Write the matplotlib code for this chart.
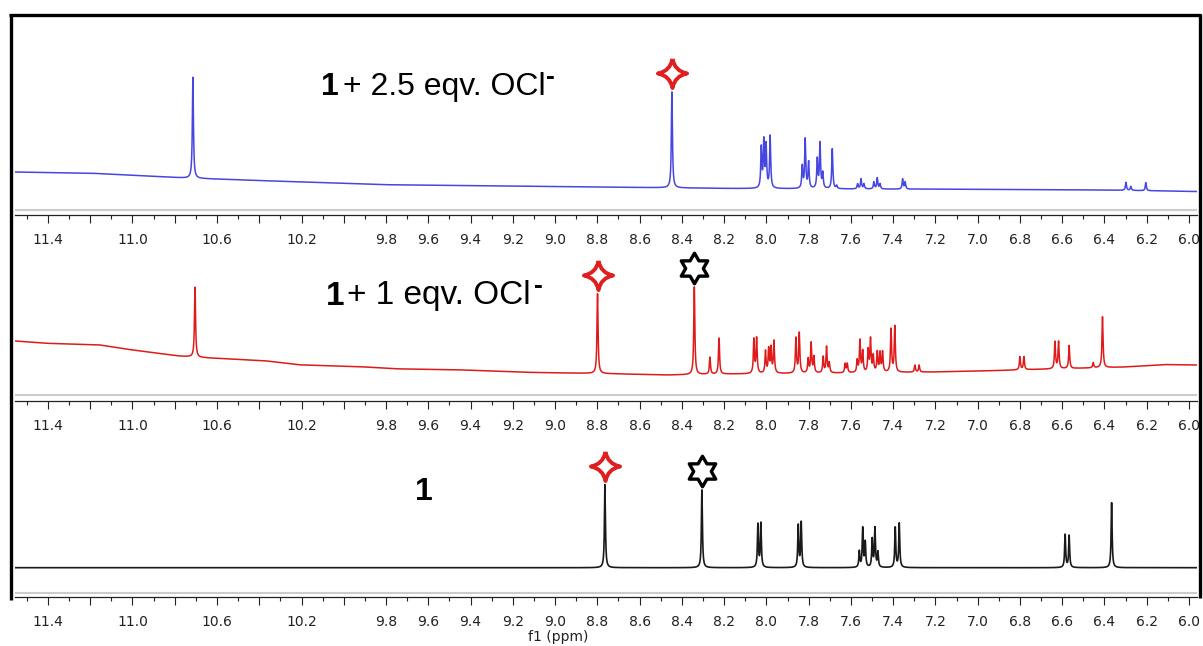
import numpy as np
import matplotlib
matplotlib.use("Agg")
import matplotlib.pyplot as plt
from matplotlib.path import Path
from matplotlib.lines import Line2D

W, H, DPI = 1203, 646, 100

# ------------------------------------------------------------------ data
ppm_left, ppm_right = 11.556, 5.962

# 1 + 2.5 eqv. OCl-  (blue)
top_base_ppm = [11.55, 11.15, 10.75, 10.2, 9.75, 8.8, 8.15, 7.6, 6.9, 6.4, 5.97]
top_base_h = [43, 41.5, 37, 33, 30, 28, 26.5, 26, 25.5, 25, 23.5]
top_peak_ppm = [10.714, 8.447, 8.024, 8.012, 8.001, 7.982, 7.830, 7.816, 7.800,
                7.759, 7.746, 7.733, 7.688, 7.667, 7.568, 7.552, 7.538, 7.491,
                7.475, 7.462, 7.355, 7.343, 6.298, 6.275, 6.204]
top_peak_h = [101, 96, 40, 46, 42, 52, 22, 49, 26, 29, 45, 15, 40, 3, 5, 10, 5, 7,
              11, 5, 10, 7, 8, 4, 8]

# 1 + 1 eqv. OCl-  (red)
mid_base_ppm = [11.55, 11.39, 11.15, 11.0, 10.78, 10.68, 10.36, 10.2, 9.89, 9.73,
                9.42, 9.1, 8.79, 8.47, 8.17, 7.6, 7.2, 6.9, 6.74, 6.3, 6.1, 5.97]
mid_base_h = [60, 57.5, 56, 51, 45, 43.5, 40, 36, 34, 32, 31, 28.5, 27.5, 26, 27,
              28, 29, 30.5, 31.5, 34, 36.5, 36]
mid_peak_ppm = [10.704, 8.799, 8.341, 8.267, 8.224, 8.059, 8.046, 8.004, 7.989,
                7.978, 7.964, 7.860, 7.844, 7.802, 7.788, 7.775, 7.731, 7.715,
                7.702, 7.627, 7.617, 7.570, 7.557, 7.544, 7.518, 7.507, 7.494,
                7.475, 7.462, 7.450, 7.410, 7.392, 7.297, 7.277, 6.800, 6.781,
                6.634, 6.617, 6.567, 6.453, 6.409]
mid_peak_h = [70, 80, 88, 17, 36, 34, 35, 22, 24, 25, 32, 35, 40, 14, 30, 16, 16,
              26, 10, 9, 9, 12, 32, 21, 22, 33, 16, 20, 19, 20, 43, 46, 7, 7, 13,
              13, 27, 27, 23, 5, 51]

# 1  (black)
bot_base_ppm = [11.55, 5.97]
bot_base_h = [29.3, 29.3]
bot_peak_ppm = [8.764, 8.305, 8.040, 8.026, 7.849, 7.835, 7.560, 7.544, 7.532,
                7.499, 7.486, 7.472, 7.390, 7.371, 6.586, 6.567, 6.366]
bot_peak_h = [83, 78, 43, 44, 42, 45, 16, 39, 25, 28, 39, 15, 40, 44, 33, 32, 65]

# marked peaks
top_cross_ppm = [8.447]
mid_cross_ppm = [8.799]
mid_hex_ppm = [8.341]
bot_cross_ppm = [8.764]
bot_hex_ppm = [8.305]

major_ticks = [11.4, 11.2, 11.0, 10.8, 10.6, 10.4, 10.2, 10.0, 9.8, 9.6, 9.4, 9.2,
               9.0, 8.8, 8.6, 8.4, 8.2, 8.0, 7.8, 7.6, 7.4, 7.2, 7.0, 6.8, 6.6,
               6.4, 6.2, 6.0]
major_labels = ["11.4", "", "11.0", "", "10.6", "", "10.2", "", "9.8", "9.6", "9.4",
                "9.2", "9.0", "8.8", "8.6", "8.4", "8.2", "8.0", "7.8", "7.6", "7.4",
                "7.2", "7.0", "6.8", "6.6", "6.4", "6.2", "6.0"]
minor_ticks = [11.5, 11.3, 11.1, 10.9, 10.7, 10.5, 10.3, 10.1, 9.9, 9.7, 9.5, 9.3,
               9.1, 8.9, 8.7, 8.5, 8.3, 8.1, 7.9, 7.7, 7.5, 7.3, 7.1, 6.9, 6.7, 6.5,
               6.3, 6.1]

# ------------------------------------------------------------------ helpers
grid = np.linspace(ppm_right, ppm_left, 14000)


def spectrum(base_ppm, base_h, pk_ppm, pk_h, gamma):
    order = np.argsort(base_ppm)
    y = np.interp(grid, np.asarray(base_ppm)[order], np.asarray(base_h)[order])
    for p, h in zip(pk_ppm, pk_h):
        y = y + h / (1.0 + ((grid - p) / gamma) ** 2)
    return y


def cross_marker():
    c = 0.16
    verts = [(0, 1), (c, c), (1, 0), (c, -c), (0, -1), (-c, -c), (-1, 0), (-c, c), (0, 1)]
    codes = [Path.MOVETO] + [Path.CURVE3] * 8
    return Path(verts, codes)


def hex_marker():
    verts = []
    for k in range(12):
        ang = np.deg2rad(90 + 30 * k)
        r = 1.0 if k % 2 == 0 else 1.0 / np.sqrt(3)
        verts.append((r * np.cos(ang), r * np.sin(ang)))
    verts.append(verts[0])
    return Path(verts, closed=True)


fig = plt.figure(figsize=(W / DPI, H / DPI), dpi=DPI)
fig.patch.set_facecolor("white")

AX_L, AX_R = 15, 1197


def make_axes(top_px, axis_px, gray_gap):
    ax = fig.add_axes([AX_L / W, 1 - axis_px / H, (AX_R - AX_L) / W, (axis_px - top_px) / H])
    ax.set_xlim(ppm_left, ppm_right)
    ax.set_ylim(0, axis_px - top_px)
    ax.patch.set_alpha(0)
    for s in ("top", "left", "right"):
        ax.spines[s].set_visible(False)
    ax.spines["bottom"].set_color("#222222")
    ax.spines["bottom"].set_linewidth(0.9)
    ax.set_yticks([])
    ax.set_xticks(major_ticks)
    ax.set_xticklabels(major_labels)
    ax.set_xticks(minor_ticks, minor=True)
    ax.tick_params(axis="x", which="major", direction="out", length=6, width=0.8,
                   color="#222222", labelsize=10, labelcolor="#222222", pad=7)
    ax.tick_params(axis="x", which="minor", direction="out", length=3, width=0.8,
                   color="#222222")
    ax.axhline(gray_gap, color="#cccccc", lw=1.5, zorder=1)
    return ax


def mark(ax, ppms, y_spec, marker, color, size, mew):
    ys = [np.interp(p, grid, y_spec) + 19 for p in ppms]
    ax.plot(ppms, ys, linestyle="none", marker=marker, markersize=size,
            markerfacecolor="white", markeredgecolor=color, markeredgewidth=mew,
            clip_on=False, zorder=5)


RED = "#e02020"
# top
ax1 = make_axes(20, 215, 4.8)
y1 = spectrum(top_base_ppm, top_base_h, top_peak_ppm, top_peak_h, 0.003)
ax1.plot(grid, y1, color="#4646e0", lw=1.1, zorder=3)
mark(ax1, top_cross_ppm, y1, cross_marker(), RED, 21, 2.8)

# middle
ax2 = make_axes(250, 401, 6.5)
y2 = spectrum(mid_base_ppm, mid_base_h, mid_peak_ppm, mid_peak_h, 0.003)
ax2.plot(grid, y2, color="#e01a1a", lw=1.1, zorder=3)
mark(ax2, mid_cross_ppm, y2, cross_marker(), RED, 21, 2.8)
mark(ax2, mid_hex_ppm, y2, hex_marker(), "black", 22, 2.4)

# bottom
ax3 = make_axes(440, 597, 4.5)
y3 = spectrum(bot_base_ppm, bot_base_h, bot_peak_ppm, bot_peak_h, 0.0028)
ax3.plot(grid, y3, color="#1a1a1a", lw=1.2, zorder=3)
mark(ax3, bot_cross_ppm, y3, cross_marker(), RED, 21, 2.8)
mark(ax3, bot_hex_ppm, y3, hex_marker(), "black", 22, 2.4)


def px(x, y):
    return x / W, 1 - y / H


LBL_FONT = "Liberation Sans"
fig.text(*px(321, 95), "1", fontsize=23, fontweight="bold", family=LBL_FONT,
         ha="left", va="baseline")
fig.text(*px(343, 95), "+ 2.5 eqv. OCl", fontsize=23, family=LBL_FONT,
         ha="left", va="baseline")
fig.text(*px(550, 77), "-", fontsize=19, fontweight="bold", family=LBL_FONT,
         ha="center", va="center")

fig.text(*px(326, 305), "1", fontsize=24, fontweight="bold", family=LBL_FONT,
         ha="left", va="baseline")
fig.text(*px(347, 304), "+ 1 eqv. OCl", fontsize=24, family=LBL_FONT,
         ha="left", va="baseline")
fig.text(*px(538, 286), "-", fontsize=19, fontweight="bold", family=LBL_FONT,
         ha="center", va="center")

fig.text(*px(415, 500), "1", fontsize=23, fontweight="bold", family=LBL_FONT,
         ha="left", va="baseline")

fig.text(*px(558, 637), "f1 (ppm)", fontsize=10, color="#222222",
         ha="center", va="center")

# outer frame (open at the bottom)
frame_kw = dict(color="black", lw=2.4, transform=fig.transFigure, zorder=20,
                solid_capstyle="butt")
fig.add_artist(Line2D([10.7 / W, 10.7 / W], [1 - 600 / H, 1 - 13.5 / H], **frame_kw))
fig.add_artist(Line2D([9 / W, 1201 / W], [1 - 15 / H, 1 - 15 / H], **frame_kw))
fig.add_artist(Line2D([1199.5 / W, 1199.5 / W], [1 - 598 / H, 1 - 13.5 / H], **frame_kw))

fig.savefig("out.png", dpi=DPI, facecolor="white")
